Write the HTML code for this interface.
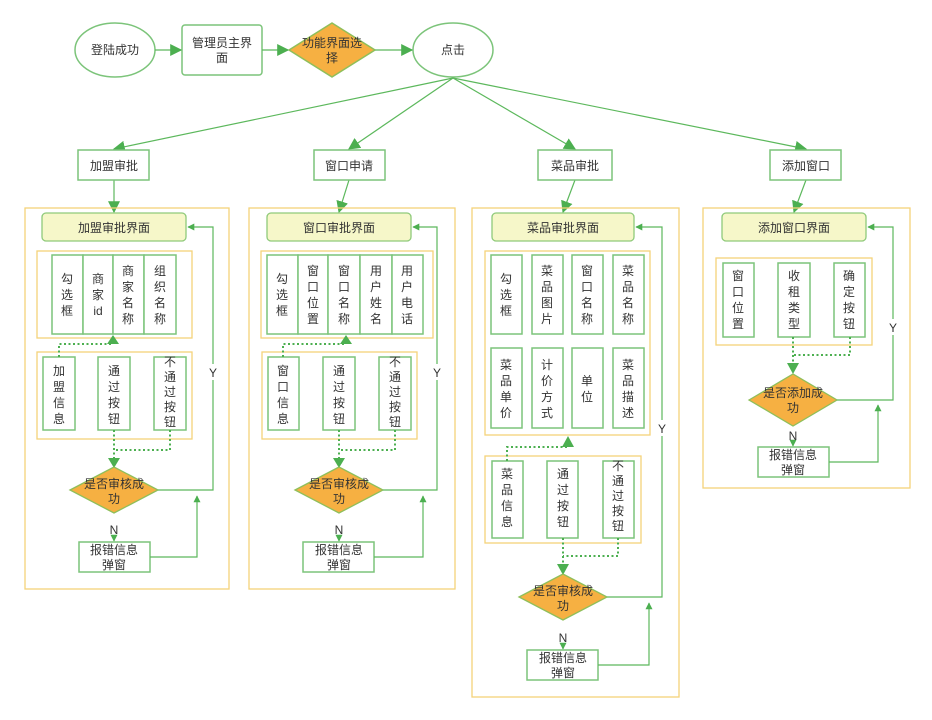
<!DOCTYPE html>
<html><head><meta charset="utf-8">
<style>
html,body{margin:0;padding:0;background:#fff;width:932px;height:720px;overflow:hidden}
svg text{font-family:"Liberation Sans","Noto Sans CJK SC",sans-serif;font-size:12px;fill:#333;text-anchor:middle}
</style></head><body>
<svg width="932" height="720" viewBox="0 0 932 720" xmlns="http://www.w3.org/2000/svg">
<defs>
<marker id="a" viewBox="0 0 10 10" refX="9" refY="5" markerWidth="7" markerHeight="7" orient="auto-start-reverse" markerUnits="userSpaceOnUse">
<path d="M0,0 L10,5 L0,10 z" fill="#4caf50"/></marker>
<marker id="b" viewBox="0 0 10 10" refX="9" refY="5" markerWidth="12" markerHeight="12" orient="auto" markerUnits="userSpaceOnUse">
<path d="M0,0 L10,5 L0,10 z" fill="#4caf50"/></marker>
</defs>
<g fill="none" stroke="#7cc47a" stroke-width="1.5">
<!-- top row -->
<ellipse cx="115" cy="50" rx="40" ry="27" fill="#fff"/>
<rect x="182" y="25" width="80" height="50" rx="3" fill="#fff"/>
<polygon points="289,50 332,23 375,50 332,77" fill="#f6b042" stroke="#8fbf5a"/>
<ellipse cx="453" cy="50" rx="40" ry="27" fill="#fff"/>
</g>
<g stroke="#5cb85c" stroke-width="1.2" fill="none" marker-end="url(#b)">
<line x1="155" y1="50" x2="181" y2="50"/>
<line x1="262" y1="50" x2="288" y2="50"/>
<line x1="375" y1="50" x2="412" y2="50"/>
<line x1="453" y1="78" x2="114" y2="149"/>
<line x1="453" y1="78" x2="349" y2="149"/>
<line x1="453" y1="78" x2="575" y2="149"/>
<line x1="453" y1="78" x2="806" y2="149"/>
<line x1="114" y1="180" x2="114" y2="212"/>
<line x1="349" y1="180" x2="339" y2="212"/>
<line x1="575" y1="180" x2="563" y2="212"/>
<line x1="806" y1="180" x2="794" y2="212"/>
</g>
<text x="115" y="54">登陆成功</text>
<text x="222" y="47">管理员主界</text><text x="222" y="62">面</text>
<text x="332" y="47">功能界面选</text><text x="332" y="62">择</text>
<text x="453" y="54">点击</text>
<g fill="#fff" stroke="#7cc47a" stroke-width="1.5">
<rect x="78" y="150" width="71" height="30"/><rect x="314" y="150" width="71" height="30"/>
<rect x="538" y="150" width="74" height="30"/><rect x="770" y="150" width="71" height="30"/>
</g>
<text x="114" y="170">加盟审批</text><text x="349" y="170">窗口申请</text>
<text x="575" y="170">菜品审批</text><text x="806" y="170">添加窗口</text>

<!-- frames -->
<g fill="none" stroke="#f5d27a" stroke-width="1.3">
<rect x="25" y="208" width="204" height="381"/>
<rect x="249" y="208" width="206" height="381"/>
<rect x="472" y="208" width="207" height="489"/>
<rect x="703" y="208" width="207" height="280"/>
<rect x="37" y="251" width="155" height="87"/>
<rect x="37" y="352" width="155" height="87"/>
<rect x="261" y="251" width="172" height="87"/>
<rect x="262" y="352" width="155" height="87"/>
<rect x="485" y="251" width="165" height="184"/>
<rect x="485" y="456" width="156" height="87"/>
<rect x="716" y="258" width="156" height="87"/>
</g>
<!-- headers -->
<g fill="#f6f7c9" stroke="#8fca7a" stroke-width="1.3">
<rect x="42" y="213" width="144" height="28" rx="4"/>
<rect x="267" y="213" width="144" height="28" rx="4"/>
<rect x="492" y="213" width="142" height="28" rx="4"/>
<rect x="722" y="213" width="144" height="28" rx="4"/>
</g>
<text x="114" y="232">加盟审批界面</text><text x="339" y="232">窗口审批界面</text>
<text x="563" y="232">菜品审批界面</text><text x="794" y="232">添加窗口界面</text>

<!-- cells -->
<g fill="#fff" stroke="#7cc47a" stroke-width="1.5">
<rect x="52" y="255" width="31" height="79"/><rect x="83" y="255" width="30" height="79"/><rect x="113" y="255" width="31" height="79"/><rect x="144" y="255" width="32" height="79"/>
<rect x="43" y="357" width="32" height="73"/><rect x="98" y="357" width="32" height="73"/><rect x="154" y="357" width="32" height="73"/>
<rect x="267" y="255" width="31" height="79"/><rect x="298" y="255" width="30" height="79"/><rect x="328" y="255" width="32" height="79"/><rect x="360" y="255" width="32" height="79"/><rect x="392" y="255" width="31" height="79"/>
<rect x="268" y="357" width="31" height="73"/><rect x="323" y="357" width="32" height="73"/><rect x="379" y="357" width="32" height="73"/>
<rect x="491" y="255" width="31" height="79"/><rect x="532" y="255" width="31" height="79"/><rect x="572" y="255" width="31" height="79"/><rect x="613" y="255" width="31" height="79"/>
<rect x="491" y="348" width="31" height="80"/><rect x="532" y="348" width="31" height="80"/><rect x="572" y="348" width="31" height="80"/><rect x="613" y="348" width="31" height="80"/>
<rect x="492" y="461" width="31" height="77"/><rect x="547" y="461" width="31" height="77"/><rect x="603" y="461" width="31" height="77"/>
<rect x="723" y="263" width="31" height="74"/><rect x="778" y="263" width="32" height="74"/><rect x="834" y="263" width="31" height="74"/>
</g>
<!-- dotted connectors -->
<g fill="none" stroke="#4caf50" stroke-width="2" stroke-dasharray="2,2.5">
<polyline points="59,357 59,344 113,344 113,340"/>
<polyline points="114,430 114,460"/><polyline points="170,430 170,450 114,450"/>
<polyline points="283,357 283,344 346,344 346,340"/>
<polyline points="339,430 339,460"/><polyline points="395,430 395,450 339,450"/>
<polyline points="507,461 507,447 568,447 568,437"/>
<polyline points="563,538 563,567"/><polyline points="618,538 618,556 563,556"/>
<polyline points="793,337 793,365"/><polyline points="850,337 850,355 793,355"/>
</g>
<g fill="#4caf50">
<polygon points="107,344 119,344 113,335"/>
<polygon points="340,344 352,344 346,335"/>
<polygon points="562,447 574,447 568,436"/>
<polygon points="108,458 120,458 114,468"/>
<polygon points="333,458 345,458 339,468"/>
<polygon points="557,564 569,564 563,575"/>
<polygon points="787,363 799,363 793,374"/>
</g>
<!-- diamonds -->
<g fill="#f6b042" stroke="#8fbf5a" stroke-width="1.3">
<polygon points="70,490 114,467 158,490 114,513"/>
<polygon points="295,490 339,467 383,490 339,513"/>
<polygon points="519,597 563,574 607,597 563,620"/>
<polygon points="749,400 793,374 837,400 793,426"/>
</g>
<text x="114" y="488">是否审核成</text><text x="114" y="503">功</text>
<text x="339" y="488">是否审核成</text><text x="339" y="503">功</text>
<text x="563" y="595">是否审核成</text><text x="563" y="610">功</text>
<text x="793" y="397">是否添加成</text><text x="793" y="412">功</text>
<!-- error boxes -->
<g fill="#fff" stroke="#7cc47a" stroke-width="1.5">
<rect x="79" y="542" width="71" height="30"/><rect x="303" y="542" width="71" height="30"/>
<rect x="527" y="650" width="71" height="30"/><rect x="758" y="447" width="71" height="30"/>
</g>
<text x="114" y="554">报错信息</text><text x="114" y="569">弹窗</text>
<text x="339" y="554">报错信息</text><text x="339" y="569">弹窗</text>
<text x="563" y="662">报错信息</text><text x="563" y="677">弹窗</text>
<text x="793" y="459">报错信息</text><text x="793" y="474">弹窗</text>
<!-- N lines -->
<g stroke="#5cb85c" stroke-width="1.2" fill="none" marker-end="url(#a)">
<line x1="114" y1="535" x2="114" y2="541"/><line x1="339" y1="535" x2="339" y2="541"/>
<line x1="563" y1="643" x2="563" y2="649"/><line x1="793" y1="441" x2="793" y2="446"/>
<polyline points="150,557 197,557 197,496"/>
<polyline points="374,557 423,557 423,496"/>
<polyline points="598,665 649,665 649,603"/>
<polyline points="829,462 878,462 878,405"/>
<polyline points="158,490 213,490 213,227 188,227"/>
<polyline points="383,490 437,490 437,227 413,227"/>
<polyline points="607,597 662,597 662,227 636,227"/>
<polyline points="837,400 893,400 893,227 868,227"/>
</g>
<g fill="#fff"><rect x="207" y="364" width="12" height="16"/><rect x="431" y="364" width="12" height="16"/><rect x="656" y="420" width="12" height="16"/><rect x="887" y="319" width="12" height="16"/></g>
<text x="213" y="377">Y</text><text x="437" y="377">Y</text><text x="662" y="433">Y</text><text x="893" y="332">Y</text>
<text x="114" y="534">N</text><text x="339" y="534">N</text><text x="563" y="642">N</text><text x="793" y="440">N</text>

<!-- vertical cell texts -->
<g>
<text x="67" y="283">勾<tspan x="67" dy="16">选</tspan><tspan x="67" dy="16">框</tspan></text>
<text x="98" y="283">商<tspan x="98" dy="16">家</tspan><tspan x="98" dy="16">id</tspan></text>
<text x="128" y="275">商<tspan x="128" dy="16">家</tspan><tspan x="128" dy="16">名</tspan><tspan x="128" dy="16">称</tspan></text>
<text x="160" y="275">组<tspan x="160" dy="16">织</tspan><tspan x="160" dy="16">名</tspan><tspan x="160" dy="16">称</tspan></text>
<text x="59" y="375">加<tspan x="59" dy="16">盟</tspan><tspan x="59" dy="16">信</tspan><tspan x="59" dy="16">息</tspan></text>
<text x="114" y="375">通<tspan x="114" dy="16">过</tspan><tspan x="114" dy="16">按</tspan><tspan x="114" dy="16">钮</tspan></text>
<text x="170" y="366">不<tspan x="170" dy="15">通</tspan><tspan x="170" dy="15">过</tspan><tspan x="170" dy="15">按</tspan><tspan x="170" dy="15">钮</tspan></text>

<text x="282" y="283">勾<tspan x="282" dy="16">选</tspan><tspan x="282" dy="16">框</tspan></text>
<text x="313" y="275">窗<tspan x="313" dy="16">口</tspan><tspan x="313" dy="16">位</tspan><tspan x="313" dy="16">置</tspan></text>
<text x="344" y="275">窗<tspan x="344" dy="16">口</tspan><tspan x="344" dy="16">名</tspan><tspan x="344" dy="16">称</tspan></text>
<text x="376" y="275">用<tspan x="376" dy="16">户</tspan><tspan x="376" dy="16">姓</tspan><tspan x="376" dy="16">名</tspan></text>
<text x="407" y="275">用<tspan x="407" dy="16">户</tspan><tspan x="407" dy="16">电</tspan><tspan x="407" dy="16">话</tspan></text>
<text x="283" y="375">窗<tspan x="283" dy="16">口</tspan><tspan x="283" dy="16">信</tspan><tspan x="283" dy="16">息</tspan></text>
<text x="339" y="375">通<tspan x="339" dy="16">过</tspan><tspan x="339" dy="16">按</tspan><tspan x="339" dy="16">钮</tspan></text>
<text x="395" y="366">不<tspan x="395" dy="15">通</tspan><tspan x="395" dy="15">过</tspan><tspan x="395" dy="15">按</tspan><tspan x="395" dy="15">钮</tspan></text>

<text x="506" y="283">勾<tspan x="506" dy="16">选</tspan><tspan x="506" dy="16">框</tspan></text>
<text x="547" y="275">菜<tspan x="547" dy="16">品</tspan><tspan x="547" dy="16">图</tspan><tspan x="547" dy="16">片</tspan></text>
<text x="587" y="275">窗<tspan x="587" dy="16">口</tspan><tspan x="587" dy="16">名</tspan><tspan x="587" dy="16">称</tspan></text>
<text x="628" y="275">菜<tspan x="628" dy="16">品</tspan><tspan x="628" dy="16">名</tspan><tspan x="628" dy="16">称</tspan></text>
<text x="506" y="369">菜<tspan x="506" dy="16">品</tspan><tspan x="506" dy="16">单</tspan><tspan x="506" dy="16">价</tspan></text>
<text x="547" y="369">计<tspan x="547" dy="16">价</tspan><tspan x="547" dy="16">方</tspan><tspan x="547" dy="16">式</tspan></text>
<text x="587" y="385">单<tspan x="587" dy="16">位</tspan></text>
<text x="628" y="369">菜<tspan x="628" dy="16">品</tspan><tspan x="628" dy="16">描</tspan><tspan x="628" dy="16">述</tspan></text>
<text x="507" y="478">菜<tspan x="507" dy="16">品</tspan><tspan x="507" dy="16">信</tspan><tspan x="507" dy="16">息</tspan></text>
<text x="563" y="478">通<tspan x="563" dy="16">过</tspan><tspan x="563" dy="16">按</tspan><tspan x="563" dy="16">钮</tspan></text>
<text x="618" y="470">不<tspan x="618" dy="15">通</tspan><tspan x="618" dy="15">过</tspan><tspan x="618" dy="15">按</tspan><tspan x="618" dy="15">钮</tspan></text>

<text x="738" y="280">窗<tspan x="738" dy="16">口</tspan><tspan x="738" dy="16">位</tspan><tspan x="738" dy="16">置</tspan></text>
<text x="794" y="280">收<tspan x="794" dy="16">租</tspan><tspan x="794" dy="16">类</tspan><tspan x="794" dy="16">型</tspan></text>
<text x="849" y="280">确<tspan x="849" dy="16">定</tspan><tspan x="849" dy="16">按</tspan><tspan x="849" dy="16">钮</tspan></text>
</g>
</svg>
</body></html>
